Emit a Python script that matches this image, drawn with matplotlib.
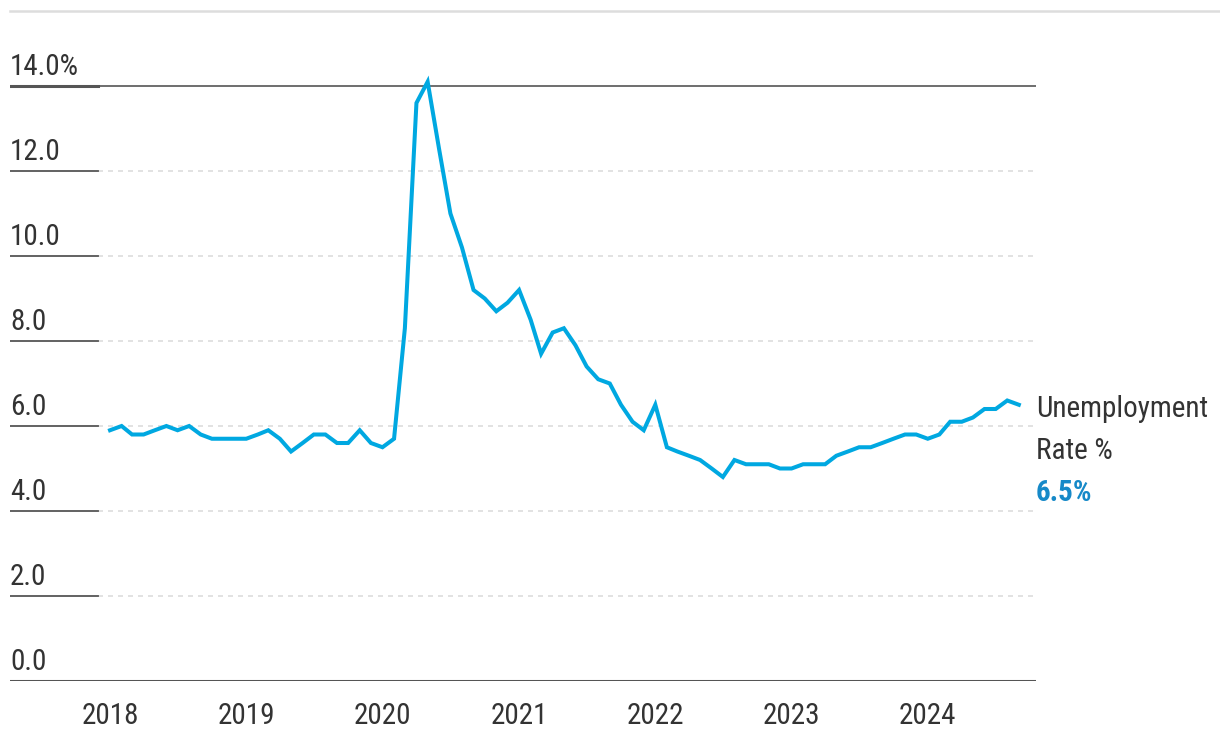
import datetime as dt

import matplotlib
matplotlib.use("Agg")
import matplotlib.pyplot as plt
import matplotlib.transforms as mtransforms
from matplotlib import font_manager
import pandas as pd

# ---- data (monthly unemployment rate, %) -------------------------------
months = pd.date_range("2018-01-01", "2024-09-01", freq="MS")
rate = [
    5.9, 6.0, 5.8, 5.8, 5.9, 6.0, 5.9, 6.0, 5.8, 5.7, 5.7, 5.7,   # 2018
    5.7, 5.8, 5.9, 5.7, 5.4, 5.6, 5.8, 5.8, 5.6, 5.6, 5.9, 5.6,   # 2019
    5.5, 5.7, 8.3, 13.6, 14.1, 12.5, 11.0, 10.2, 9.2, 9.0, 8.7, 8.9,  # 2020
    9.2, 8.5, 7.7, 8.2, 8.3, 7.9, 7.4, 7.1, 7.0, 6.5, 6.1, 5.9,   # 2021
    6.5, 5.5, 5.4, 5.3, 5.2, 5.0, 4.8, 5.2, 5.1, 5.1, 5.1, 5.0,   # 2022
    5.0, 5.1, 5.1, 5.1, 5.3, 5.4, 5.5, 5.5, 5.6, 5.7, 5.8, 5.8,   # 2023
    5.7, 5.8, 6.1, 6.1, 6.2, 6.4, 6.4, 6.6, 6.5,                 # 2024
]
y_ticks = [0, 2, 4, 6, 8, 10, 12, 14]
y_labels = ["0.0", "2.0", "4.0", "6.0", "8.0", "10.0", "12.0", "14.0%"]
x_years = list(range(2018, 2025))
series_name = "Unemployment\nRate %"
last_label = "6.5%"

LINE_BLUE = "#00a8e1"
LABEL_BLUE = "#1689c8"
TEXT = "#333333"
DARK = "#555555"
GRID = "#dddddd"

# pick a condensed family if there is one
_available = {f.name for f in font_manager.fontManager.ttflist}
for fam in ["Liberation Sans Narrow", "Roboto Condensed", "DejaVu Sans"]:
    if fam in _available:
        plt.rcParams["font.family"] = [fam, "DejaVu Sans"]
        break
if plt.rcParams["font.family"][0] == "DejaVu Sans":
    plt.rcParams["font.stretch"] = "condensed"

W, H = 1220, 744
fig = plt.figure(figsize=(W / 100, H / 100), dpi=100)

# axes in pixel layout: x from 10 to 1036, y=0 at 681 px, 42.5 px per unit
PX_PER_UNIT = 42.5
Y_TOP = 15.0
ax = fig.add_axes([10 / W, (H - 681) / H, 1026 / W, Y_TOP * PX_PER_UNIT / H])
ax.set_ylim(0, Y_TOP)
start = dt.datetime(2018, 1, 1)
ax.set_xlim(start - dt.timedelta(days=268), start + dt.timedelta(days=2481))

for s in ax.spines.values():
    s.set_visible(False)
ax.set_yticks([])

tick_frac = 88 / 1026
blend = mtransforms.blended_transform_factory(ax.transAxes, ax.transData)
for yv, lab in zip(y_ticks, y_labels):
    if yv == 0:
        ax.axhline(yv, color=DARK, lw=2.2, zorder=3)
    elif yv == 14:
        ax.axhline(yv, color=DARK, lw=1.2, zorder=1)
        ax.axhline(yv, xmax=tick_frac, color=DARK, lw=2.2, zorder=1)
    else:
        ax.axhline(yv, xmin=tick_frac, color=GRID, lw=1.2, ls=(0, (3, 3)), zorder=1)
        ax.axhline(yv, xmax=tick_frac, color=DARK, lw=1.3, zorder=1)
    ax.annotate(lab, (0, yv), xycoords=blend, xytext=(0, 3.5), textcoords="offset points",
                ha="left", va="bottom", fontsize=21, color=TEXT)

ax.plot(months, rate, color=LINE_BLUE, lw=2.9, solid_joinstyle="miter", zorder=4)

ax.set_xticks([dt.datetime(y, 1, 1) for y in x_years])
ax.set_xticklabels([str(y) for y in x_years], fontsize=21, color=TEXT)
ax.tick_params(axis="x", length=0, pad=15)

# top rule
fig.add_artist(plt.Line2D([10 / W, 1.0], [(H - 11) / H] * 2, color=GRID, lw=1.8))

# right-hand series label
fig.text(1036 / W, (H - 417) / H, series_name.split("\n")[0], fontsize=21,
         color=TEXT, ha="left", va="baseline")
fig.text(1036 / W, (H - 459) / H, series_name.split("\n")[1], fontsize=21,
         color=TEXT, ha="left", va="baseline")
fig.text(1036 / W, (H - 501) / H, last_label, fontsize=21, fontweight="bold",
         color=LABEL_BLUE, ha="left", va="baseline")

fig.savefig("out.png", dpi=100)
